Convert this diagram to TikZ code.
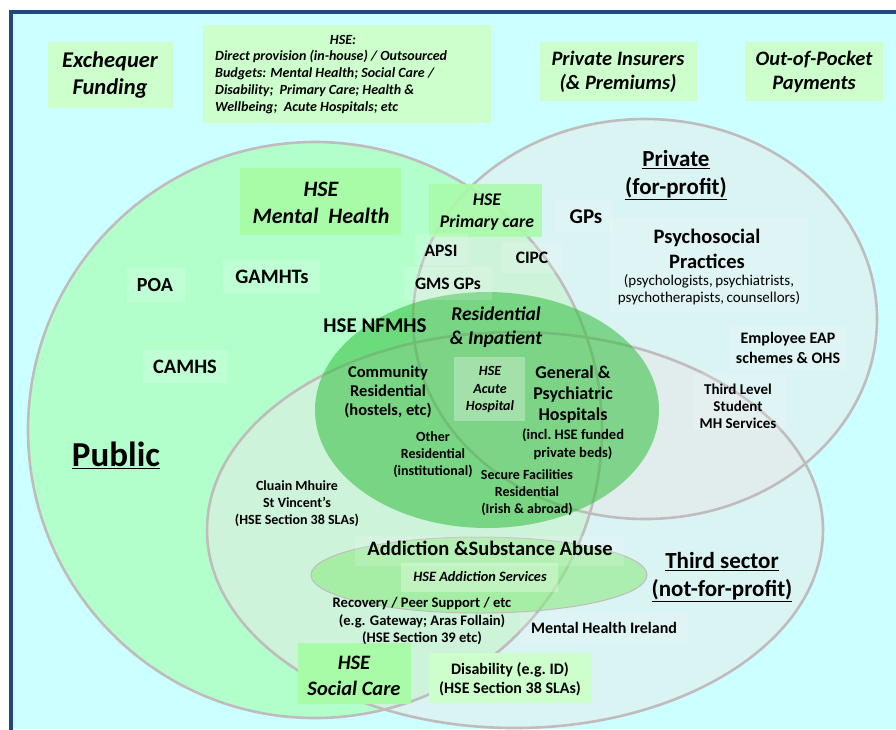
\documentclass[tikz,border=0pt]{standalone}
\usepackage{fontspec}
\setmainfont{Carlito}
\newcommand\myfs[1]{\fontsize{#1}{1.2\dimexpr#1pt\relax}\selectfont}
\definecolor{bgcyan}{RGB}{204,255,255}
\definecolor{framecol}{RGB}{31,73,125}
\definecolor{topbox}{RGB}{204,255,204}
\definecolor{hsebox}{RGB}{168,252,168}
\definecolor{pubgreen}{RGB}{179,255,204}
\definecolor{ringgray}{RGB}{192,188,190}
\definecolor{privfill}{RGB}{232,232,232}
\definecolor{resgreen}{RGB}{50,190,60}
\definecolor{addgreen}{RGB}{140,235,130}
\begin{document}
\begin{tikzpicture}[x=1pt,y=-1pt,
  lbl/.style={align=center,inner sep=0pt,font=\bfseries},
  bi/.style={align=center,inner sep=0pt,font=\bfseries\itshape},
  ring/.style={draw=ringgray,line width=2.6pt},
  faint/.style={fill=white,fill opacity=0.16},
  tbox/.style={fill=topbox},
  hbox/.style={fill=hsebox}]
\useasboundingbox (0,0) rectangle (896,729);
\fill[white] (0,0) rectangle (896,729);
\fill[bgcyan] (11,12) rectangle (896,729);
\draw[framecol,line width=4pt] (11,740) -- (11,12) -- (900,12);

% funding boxes
\fill[tbox] (48,42) rectangle (173,108);
\fill[tbox] (203,25) rectangle (491,123);
\fill[tbox] (540,42) rectangle (697,101);
\fill[tbox] (745,42) rectangle (883,101);

% sector rings
\fill[pubgreen] (315,430) ellipse [x radius=287pt,y radius=288pt];
\fill[privfill,fill opacity=0.5] (645,319) ellipse [x radius=232pt,y radius=200pt];
\fill[privfill,fill opacity=0.5] (515,530) ellipse [x radius=308pt,y radius=198pt];
\draw[ring] (315,430) ellipse [x radius=287pt,y radius=288pt];
\draw[ring] (645,319) ellipse [x radius=232pt,y radius=200pt];
\draw[ring] (515,530) ellipse [x radius=308pt,y radius=198pt];
\fill[resgreen,fill opacity=0.55] (487,410) ellipse [x radius=172pt,y radius=118pt];
\filldraw[fill=addgreen,fill opacity=0.6,draw=ringgray,line width=1pt] (479,575) ellipse [x radius=168pt,y radius=38pt];

% label boxes
\fill[hbox] (240,168) rectangle (401,235);
\fill[hbox,fill opacity=0.85] (429,184) rectangle (542,237);
\fill[white,fill opacity=0.3] (454,357) rectangle (525,421);
\fill[hbox] (298,643) rectangle (411,704);
\fill[tbox] (429,653) rectangle (592,703);
\fill[faint] (610,218) rectangle (808,312);
\fill[faint] (730,326) rectangle (846,370);
\fill[faint] (693,373) rectangle (787,430);
\fill[faint] (520,613) rectangle (688,643);
\fill[faint] (355,536) rectangle (624,566);
\fill[white,fill opacity=0.3] (401,563) rectangle (558,592);
\fill[faint] (555,200) rectangle (612,233);
\fill[faint] (415,234) rectangle (468,265);
\fill[faint] (502,243) rectangle (562,273);
\fill[faint] (404,267) rectangle (492,300);
\fill[faint] (223,260) rectangle (320,293);
\fill[faint] (127,268) rectangle (185,302);
\fill[faint] (143,350) rectangle (227,383);

% texts
\node[bi,font=\bfseries\itshape\myfs{22.5}] (exch) at (110,75) {Exchequer\\Funding};
\node[bi,font=\bfseries\itshape\myfs{14}] (hsehead) at (343,40) {HSE:};
\node[bi,align=left,anchor=west,font=\bfseries\itshape\fontsize{14}{16.8}\selectfont] (hsebody) at (215,82)
  {Direct provision (in-house) / Outsourced\\Budgets: Mental Health; Social Care /\\Disability;\ \ Primary Care; Health \&\\Wellbeing;\ \ Acute Hospitals; etc};
\node[bi,font=\bfseries\itshape\myfs{20.5}] (ins) at (618,72) {Private Insurers\\(\& Premiums)};
\node[bi,font=\bfseries\itshape\myfs{20.5}] (oop) at (814,72) {Out-of-Pocket\\Payments};

\node[bi,font=\bfseries\itshape\myfs{22}] (hsemh) at (321,203) {HSE\\Mental\ \ Health};
\node[bi,font=\bfseries\itshape\myfs{17.8}] (hsepc) at (487,212) {HSE\\Primary care};
\node[lbl,font=\bfseries\myfs{17.5}] (apsi) at (441,251) {APSI};
\node[lbl,font=\bfseries\myfs{17.5}] (cipc) at (532,258) {CIPC};
\node[lbl,font=\bfseries\myfs{17.5}] (gms) at (448,284) {GMS GPs};
\node[lbl,font=\bfseries\myfs{20.5}] (gamht) at (272,277) {GAMHTs};
\node[lbl,font=\bfseries\myfs{20}] (poa) at (155,285) {POA};
\node[lbl,font=\bfseries\myfs{20.5}] (camhs) at (185,367) {CAMHS};
\node[lbl,font=\bfseries\myfs{21}] (nfmhs) at (375,326) {HSE NFMHS};
\node[lbl,font=\bfseries\myfs{21}] (gps) at (586,217) {GPs};
\node[lbl,font=\bfseries\myfs{23}] (priv) at (676,175) {\underline{Private}\\\underline{(for-profit)}};
\node[lbl,font=\bfseries\myfs{20.5}] (psy) at (707,249) {Psychosocial\\Practices};
\node[lbl,font=\fontsize{15}{17}\selectfont] (psysub) at (709,290) {(psychologists,\,psychiatrists,\\psychotherapists,\,counsellors)};
\node[lbl,font=\bfseries\myfs{16}] (eap) at (788,348) {Employee EAP\\schemes \& OHS};
\node[lbl,font=\bfseries\fontsize{15}{17}\selectfont] (tl) at (738,406) {Third Level\\Student\\MH Services};
\node[bi,font=\bfseries\itshape\myfs{19.5}] (resinp) at (496,327) {Residential\\\& Inpatient};
\node[lbl,font=\bfseries\fontsize{16.5}{19}\selectfont] (comm) at (388,392) {Community\\Residential\\(hostels, etc)};
\node[bi,font=\bfseries\itshape\fontsize{14}{17.5}\selectfont] (acute) at (490,390) {HSE\\Acute\\Hospital};
\node[lbl,font=\bfseries\fontsize{18}{21}\selectfont] (gen) at (573,395) {General \&\\Psychiatric\\Hospitals};
\node[lbl,font=\bfseries\fontsize{14.5}{18}\selectfont] (gensub) at (573,444) {(incl.\ HSE funded\\private beds)};
\node[lbl,font=\bfseries\fontsize{14}{17}\selectfont] (other) at (433,455) {Other\\Residential\\(institutional)};
\node[lbl,font=\bfseries\fontsize{14}{17}\selectfont] (secure) at (527,493) {Secure Facilities\\Residential\\(Irish \& abroad)};
\node[lbl,font=\bfseries\fontsize{14}{17}\selectfont] (cluain) at (297,504) {Cluain Mhuire\\St Vincent’s\\(HSE Section 38 SLAs)};
\node[lbl,font=\bfseries\myfs{20.5}] (addict) at (490,548) {Addiction \&Substance Abuse};
\node[bi,font=\bfseries\itshape\myfs{14.3}] (hseadd) at (480,577) {HSE Addiction Services};
\node[lbl,font=\bfseries\fontsize{14.6}{17.5}\selectfont] (recov) at (422,621) {Recovery / Peer Support / etc\\(e.g. Gateway;\ Aras Follain)\\(HSE Section 39 etc)};
\node[lbl,font=\bfseries\myfs{23}] (third) at (722,577) {\underline{Third sector}\\\underline{(not-for-profit)}};
\node[lbl,font=\bfseries\myfs{16}] (mhi) at (604,628) {Mental Health Ireland};
\node[bi,font=\bfseries\itshape\fontsize{20.5}{26}\selectfont] (hsesc) at (354,676) {HSE\\Social Care};
\node[lbl,font=\bfseries\fontsize{16}{19}\selectfont] (dis) at (510,679) {Disability (e.g.\ ID)\\(HSE Section 38 SLAs)};
\node[lbl,font=\bfseries\myfs{35}] (public) at (116,455) {\underline{Public}};
\end{tikzpicture}
\end{document}
